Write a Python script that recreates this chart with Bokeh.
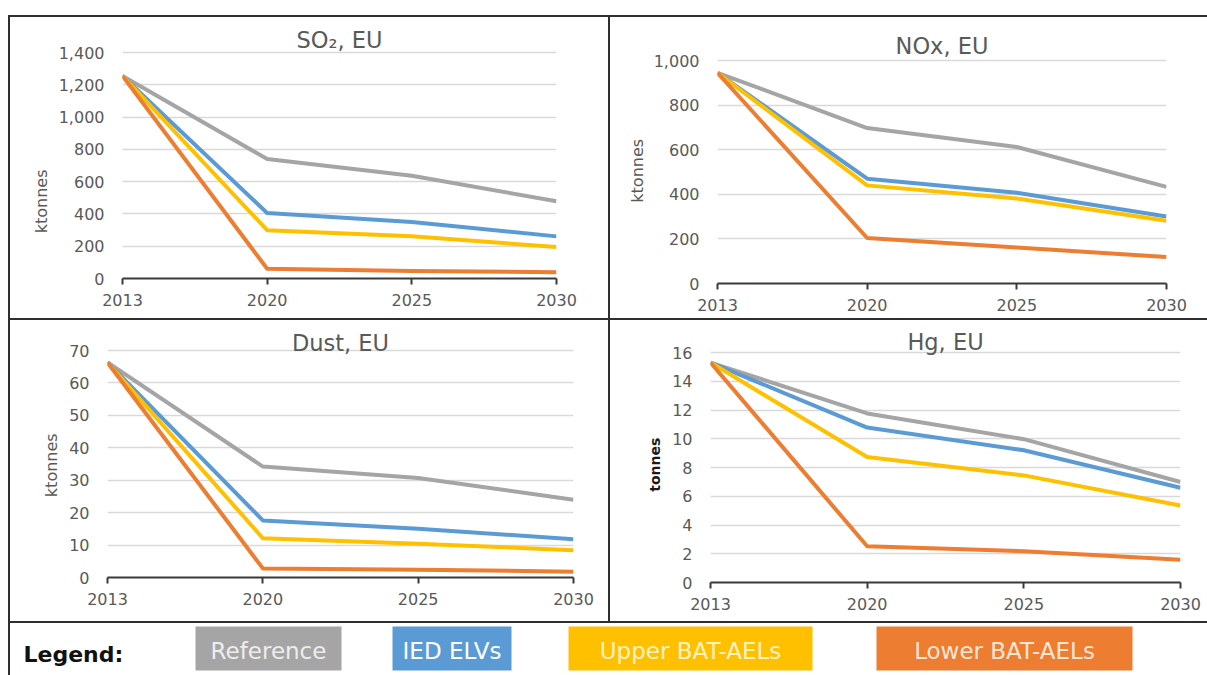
from bokeh.plotting import figure
from bokeh.models import Range1d, FixedTicker, NumeralTickFormatter, Div, Spacer, ColumnDataSource, Label
from bokeh.layouts import row, column
from bokeh.core.properties import value
from bokeh.embed import file_html
from bokeh.resources import INLINE

# ---------------- data ----------------
years = ["2013", "2020", "2025", "2030"]
series = ["Reference", "IED ELVs", "Upper BAT-AELs", "Lower BAT-AELs"]

so2_reference = [1255, 740, 636, 479]
so2_ied = [1255, 406, 350, 261]
so2_upper = [1255, 299, 261, 195]
so2_lower = [1255, 60, 46, 39]

nox_reference = [945, 697, 612, 433]
nox_ied = [945, 470, 407, 300]
nox_upper = [945, 440, 381, 281]
nox_lower = [945, 204, 161, 119]

dust_reference = [66.3, 34.2, 30.7, 24.0]
dust_ied = [66.3, 17.6, 15.0, 11.8]
dust_upper = [66.3, 12.1, 10.4, 8.4]
dust_lower = [66.3, 2.8, 2.4, 1.8]

hg_reference = [15.3, 11.76, 9.97, 6.99]
hg_ied = [15.3, 10.78, 9.2, 6.59]
hg_upper = [15.3, 8.73, 7.45, 5.36]
hg_lower = [15.3, 2.52, 2.17, 1.58]

so2_ticks = [0, 200, 400, 600, 800, 1000, 1200, 1400]
nox_ticks = [0, 200, 400, 600, 800, 1000]
dust_ticks = [0, 10, 20, 30, 40, 50, 60, 70]
hg_ticks = [0, 2, 4, 6, 8, 10, 12, 14, 16]

# ---------------- styles / layout ----------------
colors = ["#A5A5A5", "#5B9BD5", "#FFC000", "#ED7D31"]
legend_text_colors = ["#EDEDED", "#FFFFFF", "#FFF2C4", "#FCE6D8"]
FONT = "DejaVu Sans"
GRAY = "#595959"
BORDER = "#2e2e2e"
NBSP = "\u00a0"

legend_box_left = [195, 392, 568, 876]
legend_box_right = [341, 511, 812, 1132]

H = 301          # panel height
ROW1_TOP, ROW2_TOP = 17, 320


def panel(title, values, ticks, ylabel, bold_label, w, row_top, top_px, bottom_px,
          left_px, right_px, fig_left, mbt, title_off, lab_standoff, lab_shift):
    """top_px / bottom_px: page y of the top and bottom gridlines;
    the frame extends above the top gridline so the title sits inside it."""
    x = list(range(len(years)))
    mbb = row_top + H - bottom_px
    extra = top_px - row_top - mbt
    ymax = ticks[-1] + (ticks[-1] - ticks[0]) * extra / (bottom_px - top_px)
    p = figure(width=w, height=H, x_range=Range1d(0, len(years) - 1),
               y_range=Range1d(ticks[0], ymax),
               output_backend="svg", toolbar_location=None,
               min_border_left=left_px - fig_left, min_border_right=fig_left + w - right_px,
               min_border_top=mbt, min_border_bottom=mbb)
    p.outline_line_color = None
    p.background_fill_color = "white"
    p.border_fill_color = "white"

    p.xgrid.grid_line_color = None
    p.ygrid.ticker = FixedTicker(ticks=ticks)
    p.ygrid.grid_line_color = "#D9D9D9"
    p.ygrid.grid_line_width = 1.5

    p.xaxis.ticker = FixedTicker(ticks=x)
    p.xaxis.major_label_overrides = {i: yr for i, yr in zip(x, years)}
    p.xaxis.axis_line_color = "#3a3a3a"
    p.xaxis.axis_line_width = 2
    p.xaxis.major_tick_line_color = "#3a3a3a"
    p.xaxis.major_tick_line_width = 2
    p.xaxis.major_tick_out = 6
    p.xaxis.major_tick_in = 0
    p.xaxis.minor_tick_line_color = None
    p.xaxis.major_label_text_font = FONT
    p.xaxis.major_label_text_font_size = "16px"
    p.xaxis.major_label_text_color = GRAY
    p.xaxis.major_label_standoff = 9

    p.yaxis.ticker = FixedTicker(ticks=ticks)
    p.yaxis.formatter = NumeralTickFormatter(format="0,0")
    p.yaxis.axis_line_color = None
    p.yaxis.major_tick_line_color = None
    p.yaxis.minor_tick_line_color = None
    p.yaxis.major_tick_out = 0
    p.yaxis.major_label_standoff = 18
    p.yaxis.major_label_text_font = FONT
    p.yaxis.major_label_text_font_size = "16px"
    p.yaxis.major_label_text_color = GRAY
    # trailing no-break spaces move the (rotated) label down along the axis
    p.yaxis.axis_label = ylabel + NBSP * lab_shift
    p.yaxis.axis_label_text_font = FONT
    p.yaxis.axis_label_standoff = lab_standoff
    if bold_label:
        p.yaxis.axis_label_text_font_style = "bold"
        p.yaxis.axis_label_text_font_size = "14px"
        p.yaxis.axis_label_text_color = "#1a1a1a"
    else:
        p.yaxis.axis_label_text_font_style = "normal"
        p.yaxis.axis_label_text_font_size = "16px"
        p.yaxis.axis_label_text_color = GRAY

    for vals, c in zip(values, colors):
        p.line(x, vals, line_color=c, line_width=4, line_join="round")

    p.add_layout(Label(x=(len(years) - 1) / 2, y=ticks[-1], y_offset=title_off, text=title,
                       text_align="center", text_baseline="middle", text_font=FONT,
                       text_font_size="22.5px", text_color=GRAY))
    return p


so2 = panel("SO\u2082, EU", [so2_reference, so2_ied, so2_upper, so2_lower], so2_ticks,
            "ktonnes", False, 598, ROW1_TOP, 52, 278, 122, 556, 10, 5, 13, 5, 20)
nox = panel("NOx, EU", [nox_reference, nox_ied, nox_upper, nox_lower], nox_ticks,
            "ktonnes", False, 597, ROW1_TOP, 60, 283, 717, 1166, 610, 5, 15, 4, 7)
dust = panel("Dust, EU", [dust_reference, dust_ied, dust_upper, dust_lower], dust_ticks,
             "ktonnes", False, 598, ROW2_TOP, 350, 577, 107, 573, 10, 2, 8, 5, 6)
hg = panel("Hg, EU", [hg_reference, hg_ied, hg_upper, hg_lower], hg_ticks,
           "tonnes", True, 597, ROW2_TOP, 352, 582, 710, 1180, 610, 2, 11, 6, 5)

# ---------------- legend strip ----------------
LH = 52
leg = figure(width=1197, height=LH, x_range=Range1d(10, 1207), y_range=Range1d(0, LH),
             output_backend="svg", toolbar_location=None, min_border=0,
             x_axis_type=None, y_axis_type=None)
leg.outline_line_color = None
leg.border_fill_color = "white"
leg.background_fill_color = "white"
src = ColumnDataSource(dict(
    left=legend_box_left, right=legend_box_right,
    top=[49] * len(series), bottom=[5] * len(series),
    cx=[(a + b) / 2 for a, b in zip(legend_box_left, legend_box_right)],
    ty=[25] * len(series),
    name=series, color=colors, tcolor=legend_text_colors))
leg.quad(left="left", right="right", top="top", bottom="bottom", fill_color="color",
         line_color=None, source=src)
leg.text(x="cx", y="ty", text="name", text_color="tcolor", text_align="center",
         text_baseline="middle", text_font=value(FONT), text_font_size="23px", source=src)
leg.text(x=[23], y=[21], text=["Legend:"], text_color="#111111", text_align="left",
         text_baseline="middle", text_font=value(FONT), text_font_style="bold",
         text_font_size="22px")


def hline(w):
    return Div(text="", width=w, height=2, margin=0, styles={"background-color": BORDER})


def vline(h):
    return Div(text="", width=2, height=h, margin=0, styles={"background-color": BORDER})


W = 1199
inner = column(
    Spacer(width=W, height=15, margin=0),
    hline(W),
    row(vline(H), column(so2), vline(H), column(nox)),
    hline(W),
    row(vline(H), column(dust), vline(H), column(hg)),
    hline(W),
    row(vline(LH), leg),
)
layout = row(Spacer(width=8, height=675, margin=0), inner)

open("out.html", "w").write(file_html(layout, INLINE))
